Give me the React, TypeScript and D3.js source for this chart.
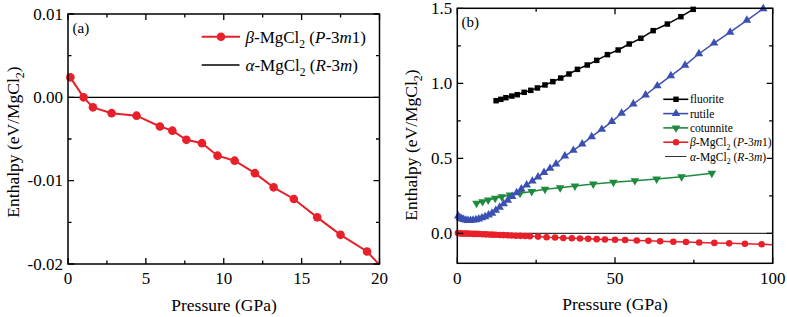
import React from 'react';
import * as d3 from 'd3';

// ---------- Panel (a) data ----------
const pressureA = [0.15, 1.0, 1.6, 2.8, 4.4, 5.9, 6.7, 7.6, 8.6, 9.6, 10.7, 12.0, 13.2, 14.5, 16.0, 17.5, 19.2, 20.8];
const betaA = [0.0024, 0.0, -0.0012, -0.0019, -0.0022, -0.0035, -0.004, -0.0051, -0.0055, -0.007, -0.0076, -0.0091, -0.0108, -0.0122, -0.0144, -0.0165, -0.0185, -0.0217];
const xTicksA = [0, 5, 10, 15, 20];
const xTickLabelsA = ['0', '5', '10', '15', '20'];
const xMinorA = [2.5, 7.5, 12.5, 17.5];
const yTicksA = [0.01, 0, -0.01, -0.02];
const yTickLabelsA = ['0.01', '0.00', '-0.01', '-0.02'];
const yMinorA = [0.005, -0.005, -0.015];

// ---------- Panel (b) data ----------
const fluoriteP = [12.3, 13.8, 15.4, 17.3, 19.0, 21.2, 23.3, 25.4, 27.8, 30.3, 32.8, 35.4, 38.1, 41.2, 44.2, 47.6, 51.0, 54.5, 58.2, 62.1, 66.6, 70.9, 74.8, 79.0];
const fluoriteH = [0.884, 0.893, 0.904, 0.915, 0.924, 0.94, 0.953, 0.969, 0.989, 1.011, 1.035, 1.062, 1.093, 1.122, 1.153, 1.191, 1.222, 1.262, 1.3, 1.351, 1.395, 1.444, 1.493, 1.545];
const rutileP = [0.3, 0.8, 1.4, 2.0, 2.7, 3.4, 4.2, 5.0, 5.9, 6.8, 7.8, 8.8, 9.9, 11.0, 12.2, 13.4, 14.7, 16.0, 17.4, 18.8, 20.3, 22.0, 23.8, 25.6, 27.5, 29.4, 31.3, 34.1, 36.8, 39.6, 42.6, 45.8, 49.0, 52.1, 55.8, 59.7, 63.4, 67.7, 72.2, 76.6, 81.4, 86.5, 91.8, 97.0, 102.3];
const rutileH = [0.115, 0.104, 0.097, 0.092, 0.088, 0.086, 0.086, 0.088, 0.091, 0.096, 0.103, 0.111, 0.122, 0.134, 0.153, 0.174, 0.197, 0.22, 0.245, 0.27, 0.296, 0.322, 0.348, 0.375, 0.405, 0.433, 0.462, 0.515, 0.553, 0.595, 0.644, 0.693, 0.745, 0.8, 0.862, 0.922, 0.983, 1.05, 1.12, 1.197, 1.268, 1.341, 1.42, 1.497, 1.575];
const cotunniteP = [6.1, 8.0, 9.8, 12.0, 14.1, 16.7, 19.9, 23.6, 27.8, 32.6, 37.3, 43.1, 49.5, 56.3, 63.2, 71.1, 80.7];
const cotunniteH = [0.2, 0.211, 0.222, 0.233, 0.244, 0.255, 0.267, 0.278, 0.293, 0.304, 0.315, 0.329, 0.34, 0.351, 0.362, 0.377, 0.4];
const betaBP = [0.2, 0.7, 1.3, 2.0, 2.7, 3.5, 4.3, 5.2, 6.1, 7.0, 8.0, 9.0, 10.0, 11.1, 12.2, 13.4, 14.6, 15.9, 17.2, 18.6, 20.0, 21.5, 23.0, 25.6, 28.3, 31.0, 33.6, 36.3, 38.9, 41.5, 44.2, 46.8, 50.0, 53.2, 56.9, 60.6, 64.3, 68.5, 72.5, 76.7, 81.5, 86.2, 91.2, 96.5, 101.8];
const betaBH = [0.002, 0.0, -0.001, -0.002, -0.002, -0.002, -0.003, -0.004, -0.004, -0.005, -0.006, -0.007, -0.008, -0.009, -0.01, -0.011, -0.012, -0.013, -0.015, -0.016, -0.017, -0.018, -0.019, -0.022, -0.026, -0.028, -0.031, -0.033, -0.035, -0.037, -0.039, -0.041, -0.043, -0.045, -0.048, -0.05, -0.053, -0.056, -0.058, -0.061, -0.064, -0.067, -0.07, -0.073, -0.077];
const xTicksB = [0, 50, 100];
const xTickLabelsB = ['0', '50', '100'];
const xMinorB = [25, 75];
const yTicksB = [0, 0.5, 1.0, 1.5];
const yTickLabelsB = ['0.0', '0.5', '1.0', '1.5'];
const yMinorB = [0.25, 0.75, 1.25];

const FONT = '"Liberation Serif", "Times New Roman", serif';
const RED = '#e8202a';
const BLUE = '#3b50b2';
const GREEN = '#1e8a3e';

type Lin = d3.ScaleLinear<number, number>;

function Frame({ x, y, xt, xtl, xm, yt, ytl, ym }: { x: Lin; y: Lin; xt: number[]; xtl: string[]; xm: number[]; yt: number[]; ytl: string[]; ym: number[] }) {
  const [l, r] = x.range();
  const [b, t] = y.range();
  const maj = 6, mn = 3.5;
  const segs: string[] = [];
  xt.forEach(v => { const px = x(v); segs.push(`M${px},${b}V${b - maj}`, `M${px},${t}V${t + maj}`); });
  xm.forEach(v => { const px = x(v); segs.push(`M${px},${b}V${b - mn}`, `M${px},${t}V${t + mn}`); });
  yt.forEach(v => { const py = y(v); segs.push(`M${l},${py}H${l + maj}`, `M${r},${py}H${r - maj}`); });
  ym.forEach(v => { const py = y(v); segs.push(`M${l},${py}H${l + mn}`, `M${r},${py}H${r - mn}`); });
  return (
    <g>
      <path d={segs.join('')} stroke="#000" strokeWidth={1.3} fill="none" />
      <rect x={l} y={t} width={r - l} height={b - t} fill="none" stroke="#000" strokeWidth={1.5} />
      {xt.map((v, i) => (
        <text key={'x' + i} x={x(v)} y={283.5} textAnchor="middle" fontSize={17} fontFamily={FONT}>{xtl[i]}</text>
      ))}
      {yt.map((v, i) => (
        <text key={'y' + i} x={l - 5} y={y(v) + 5.8} textAnchor="end" fontSize={17} fontFamily={FONT}>{ytl[i]}</text>
      ))}
    </g>
  );
}

function BetaLabel({ x, y, size }: { x: number; y: number; size: number }) {
  const s = size * 0.68, d = size * 0.3;
  return (
    <text x={x} y={y} fontSize={size} fontFamily={FONT}>
      <tspan fontStyle="italic">β</tspan>-MgCl<tspan fontSize={s} dy={d}>2</tspan><tspan dy={-d}> (</tspan><tspan fontStyle="italic">P</tspan>-3<tspan fontStyle="italic">m</tspan>1)
    </text>
  );
}
function AlphaLabel({ x, y, size }: { x: number; y: number; size: number }) {
  const s = size * 0.68, d = size * 0.3;
  return (
    <text x={x} y={y} fontSize={size} fontFamily={FONT}>
      <tspan fontStyle="italic">α</tspan>-MgCl<tspan fontSize={s} dy={d}>2</tspan><tspan dy={-d}> (</tspan><tspan fontStyle="italic">R</tspan>-3<tspan fontStyle="italic">m</tspan>)
    </text>
  );
}
function YTitle({ x, y }: { x: number; y: number }) {
  const size = 17.5;
  return (
    <text transform={`translate(${x},${y}) rotate(-90)`} textAnchor="middle" fontSize={size} fontFamily={FONT}>
      Enthalpy (eV/MgCl<tspan fontSize={size * 0.68} dy={size * 0.3}>2</tspan><tspan dy={-size * 0.3}>)</tspan>
    </text>
  );
}

function Series({ xs, ys, x, y, color, symbol, size, rotate = 0, lw = 1.6, clipId }: any) {
  const pts: [number, number][] = xs.map((p: number, i: number) => [p, ys[i]]);
  const line = d3.line<[number, number]>().x(d => x(d[0])).y(d => y(d[1]));
  const [x0, x1] = x.domain();
  const [y0, y1] = y.domain();
  const sym = d3.symbol().type(symbol).size(size)();
  const vis = pts.filter(d => d[0] >= x0 && d[0] <= x1 && d[1] >= y0 && d[1] <= y1);
  return (
    <g>
      <path d={line(pts) || ''} stroke={color} strokeWidth={lw} fill="none" clipPath={`url(#${clipId})`} />
      {vis.map((d, i) => (
        <path key={i} d={sym || ''} transform={`translate(${x(d[0])},${y(d[1])}) rotate(${rotate})`} fill={color} />
      ))}
    </g>
  );
}

export default function App() {
  const xA = d3.scaleLinear().domain([0, 20]).range([68, 379.5]);
  const yA = d3.scaleLinear().domain([-0.02, 0.01]).range([264, 14]);
  const xB = d3.scaleLinear().domain([0, 100]).range([457.3, 772.7]);
  const yB = d3.scaleLinear().domain([-0.2, 1.5]).range([263.3, 8.3]);

  const legendB = [
    { name: 'fluorite', color: '#000', symbol: d3.symbolSquare, size: 30, rot: 0 },
    { name: 'rutile', color: BLUE, symbol: d3.symbolTriangle, size: 32, rot: 0 },
    { name: 'cotunnite', color: GREEN, symbol: d3.symbolTriangle, size: 32, rot: 180 },
  ];
  const legY = [99.3, 113.6, 127.9, 142.2, 156.5];

  return (
    <svg width={787} height={317} style={{ position: 'absolute', left: 0, top: 0, background: '#fff' }}>
      <defs>
        <clipPath id="clipA"><rect x={68} y={14} width={311.5} height={250} /></clipPath>
        <clipPath id="clipB"><rect x={457.3} y={8.3} width={315.4} height={255} /></clipPath>
      </defs>
      <rect width={787} height={317} fill="#fff" />

      {/* Panel (a) */}
      <line x1={xA(0)} x2={xA(20)} y1={yA(0)} y2={yA(0)} stroke="#000" strokeWidth={1.3} />
      <Series xs={pressureA} ys={betaA} x={xA} y={yA} color={RED} symbol={d3.symbolCircle} size={58} lw={2} clipId="clipA" />
      <Frame x={xA} y={yA} xt={xTicksA} xtl={xTickLabelsA} xm={xMinorA} yt={yTicksA} ytl={yTickLabelsA} ym={yMinorA} />
      <text x={72.5} y={33} fontSize={15} fontFamily={FONT}>(a)</text>
      <line x1={201.7} x2={240} y1={36.7} y2={36.7} stroke={RED} strokeWidth={2} />
      <circle cx={221} cy={36.7} r={4.3} fill={RED} />
      <BetaLabel x={245.5} y={42.5} size={17} />
      <line x1={201.7} x2={239.5} y1={65} y2={65} stroke="#000" strokeWidth={1.6} />
      <AlphaLabel x={245.5} y={71} size={17} />
      <YTitle x={19} y={142} />
      <text x={224} y={311} textAnchor="middle" fontSize={17.5} fontFamily={FONT}>Pressure (GPa)</text>

      {/* Panel (b) */}
      <line x1={xB(0)} x2={xB(100)} y1={yB(0)} y2={yB(0)} stroke="#000" strokeWidth={1} />
      <Series xs={betaBP} ys={betaBH} x={xB} y={yB} color={RED} symbol={d3.symbolCircle} size={34} lw={1.5} clipId="clipB" />
      <Series xs={cotunniteP} ys={cotunniteH} x={xB} y={yB} color={GREEN} symbol={d3.symbolTriangle} size={32} rotate={180} lw={1.5} clipId="clipB" />
      <Series xs={rutileP} ys={rutileH} x={xB} y={yB} color={BLUE} symbol={d3.symbolTriangle} size={32} lw={1.5} clipId="clipB" />
      <Series xs={fluoriteP} ys={fluoriteH} x={xB} y={yB} color="#000" symbol={d3.symbolSquare} size={30} lw={1.5} clipId="clipB" />
      <Frame x={xB} y={yB} xt={xTicksB} xtl={xTickLabelsB} xm={xMinorB} yt={yTicksB} ytl={yTickLabelsB} ym={yMinorB} />
      <text x={461.5} y={27} fontSize={15} fontFamily={FONT}>(b)</text>
      {legendB.map((s, i) => (
        <g key={s.name}>
          <line x1={663.3} x2={688.3} y1={legY[i]} y2={legY[i]} stroke={s.color} strokeWidth={1.6} />
          <path d={d3.symbol().type(s.symbol).size(s.size)() || ''} transform={`translate(676,${legY[i]}) rotate(${s.rot})`} fill={s.color} />
          <text x={690} y={legY[i] + 4} fontSize={11.5} fontFamily={FONT}>{s.name}</text>
        </g>
      ))}
      <line x1={663.3} x2={688.3} y1={legY[3]} y2={legY[3]} stroke={RED} strokeWidth={1.6} />
      <circle cx={676} cy={legY[3]} r={3.2} fill={RED} />
      <BetaLabel x={690} y={legY[3] + 4} size={11.5} />
      <line x1={665} x2={686.5} y1={legY[4]} y2={legY[4]} stroke="#000" strokeWidth={0.8} />
      <AlphaLabel x={690} y={legY[4] + 4} size={11.5} />
      <YTitle x={417} y={145} />
      <text x={615} y={310} textAnchor="middle" fontSize={17.5} fontFamily={FONT}>Pressure (GPa)</text>
    </svg>
  );
}
